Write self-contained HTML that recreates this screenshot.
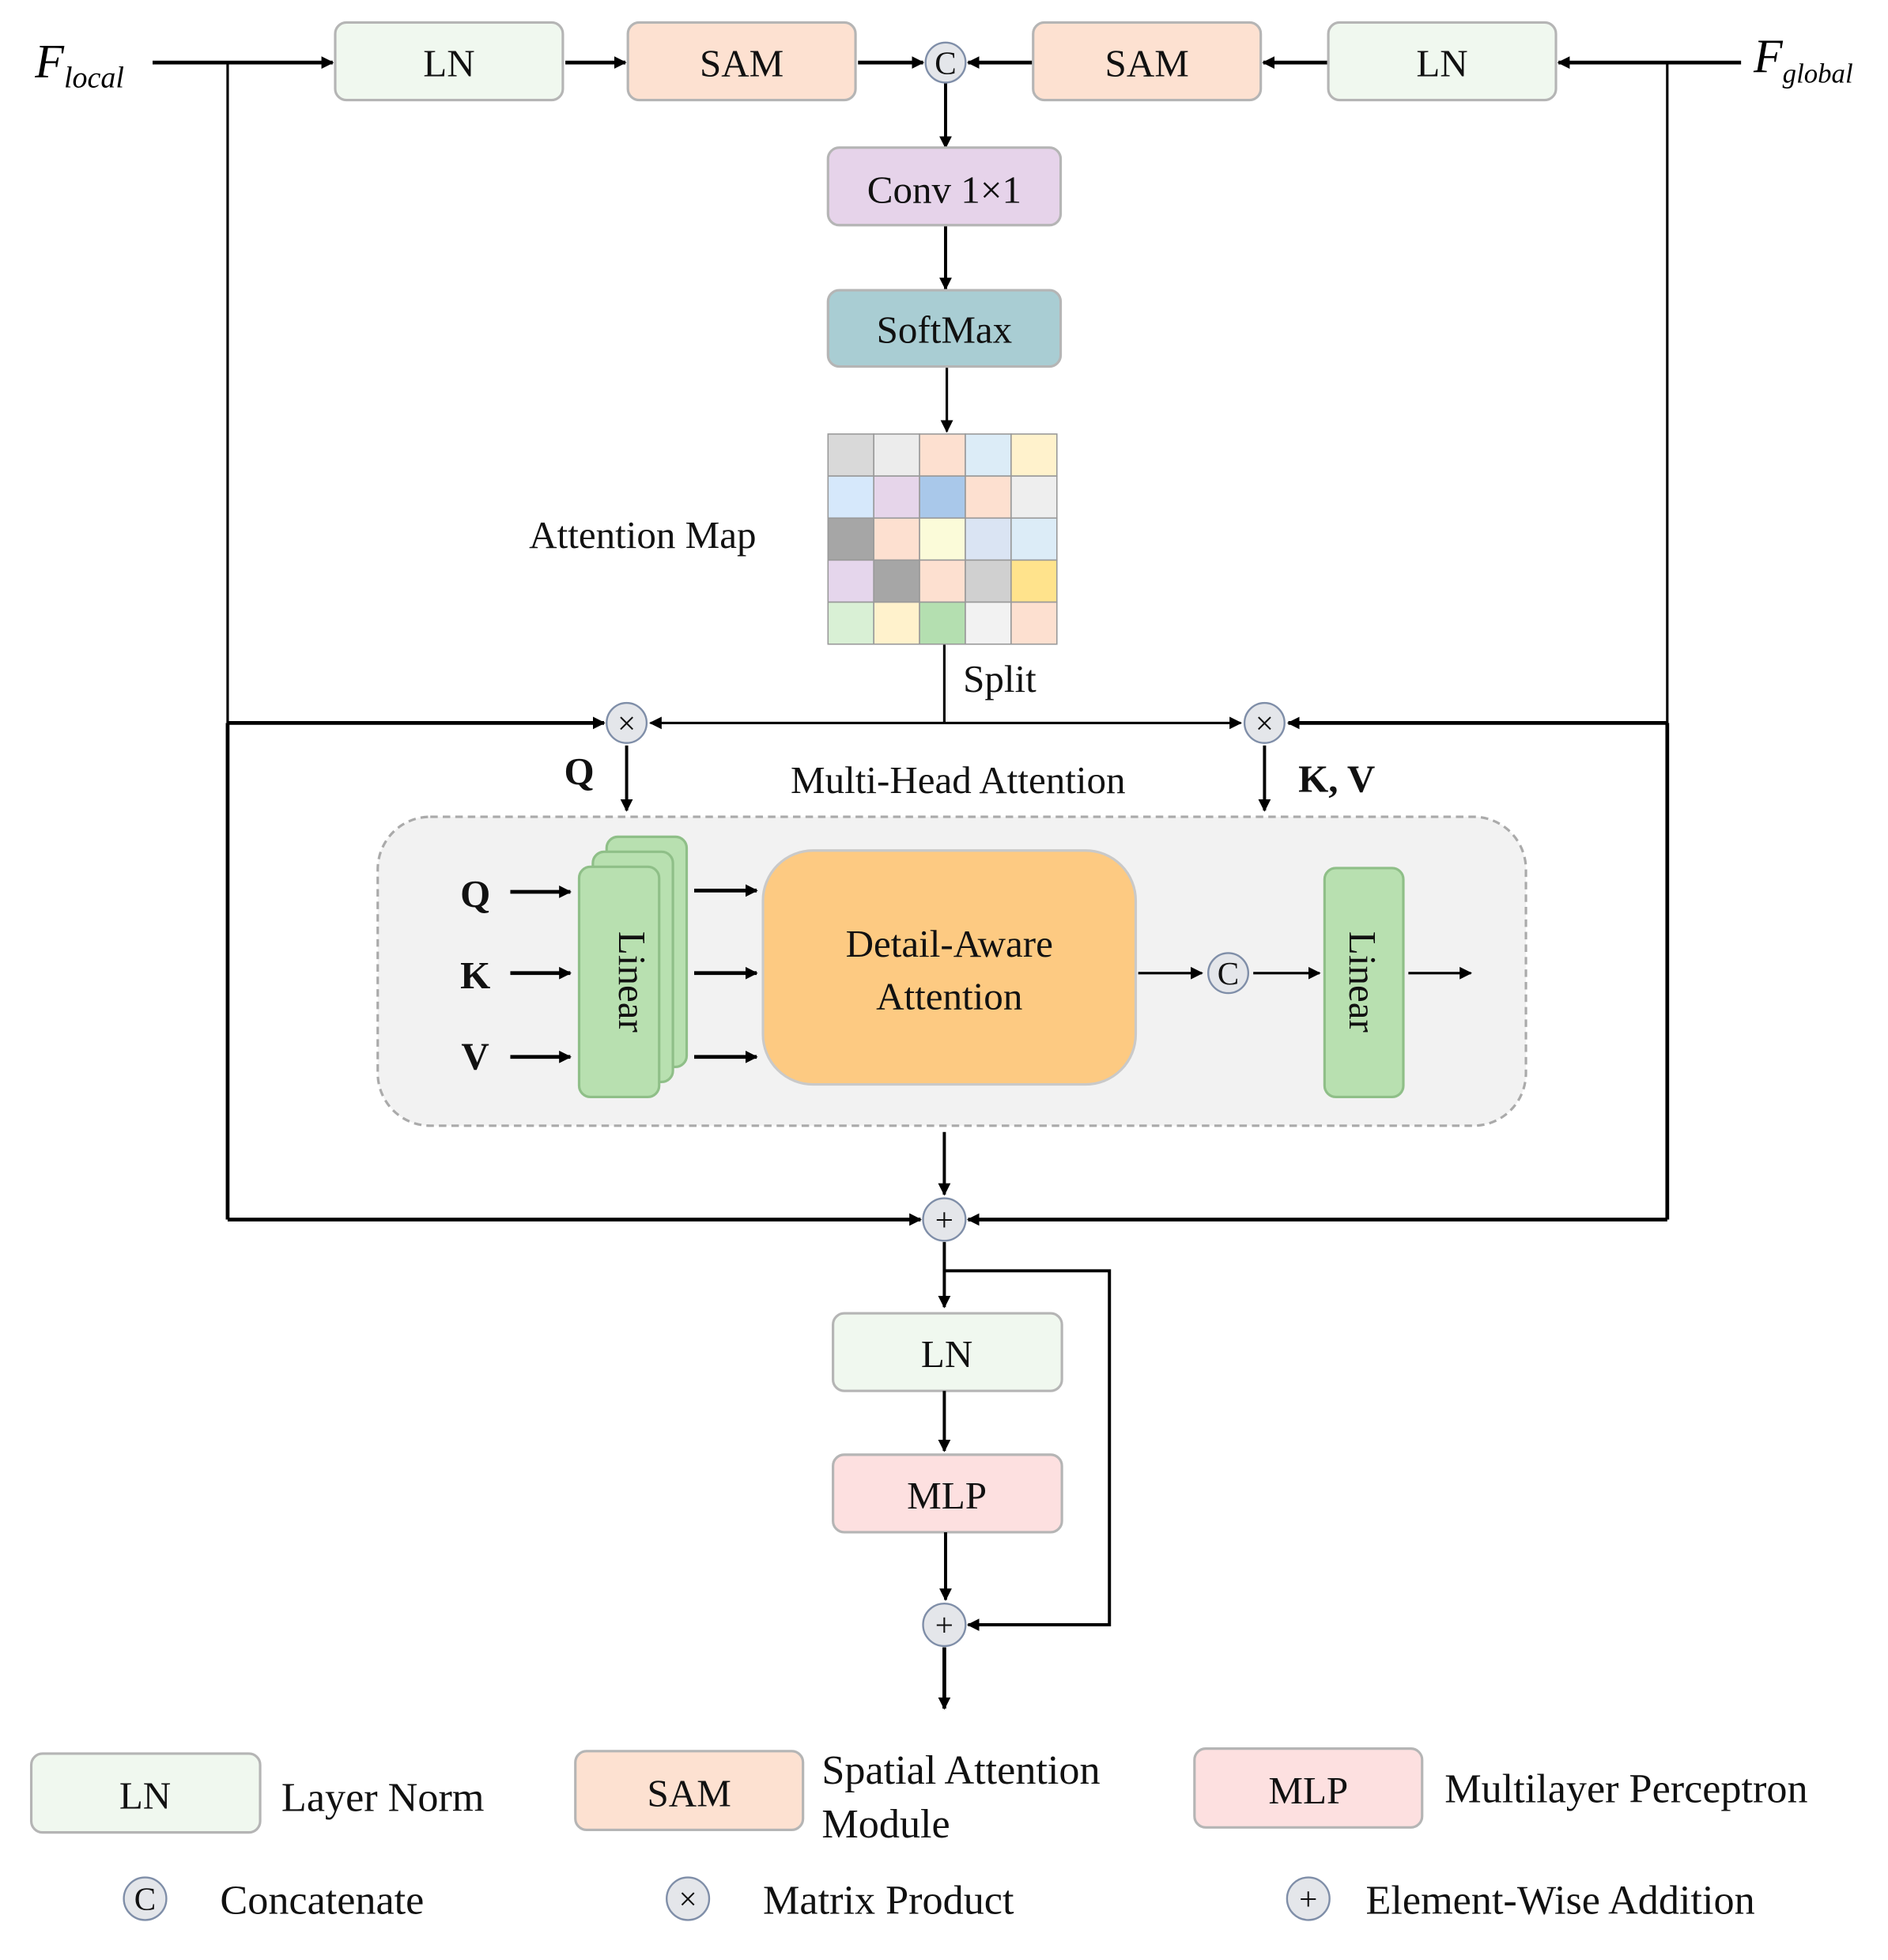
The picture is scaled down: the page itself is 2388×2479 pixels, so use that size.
<!DOCTYPE html>
<html><head><meta charset="utf-8"><style>html,body{margin:0;padding:0;background:#fff}svg{display:block}</style></head>
<body>
<svg xmlns="http://www.w3.org/2000/svg" width="2388" height="2479" viewBox="0 0 1509 1567" preserveAspectRatio="xMinYMin meet" font-family="Liberation Serif, serif">
<defs>
<marker id="b" viewBox="0 0 10 10" refX="9" refY="5" markerWidth="10" markerHeight="10" orient="auto-start-reverse" markerUnits="userSpaceOnUse"><path d="M0,0 L10,5 L0,10 z" fill="#000"/></marker>
</defs>
<g stroke="#000" fill="none">
<line x1="122" y1="50" x2="266" y2="50" stroke-width="3" marker-end="url(#b)"/>
<line x1="452" y1="50" x2="500" y2="50" stroke-width="3" marker-end="url(#b)"/>
<line x1="686" y1="50" x2="738" y2="50" stroke-width="3" marker-end="url(#b)"/>
<line x1="826" y1="50" x2="774" y2="50" stroke-width="3" marker-end="url(#b)"/>
<line x1="1062" y1="50" x2="1010" y2="50" stroke-width="3" marker-end="url(#b)"/>
<line x1="1392" y1="50" x2="1246" y2="50" stroke-width="3" marker-end="url(#b)"/>
<line x1="182" y1="50" x2="182" y2="578" stroke-width="2"/>
<line x1="1333" y1="50" x2="1333" y2="578" stroke-width="2"/>
<line x1="756" y1="66" x2="756" y2="118" stroke-width="2.5" marker-end="url(#b)"/>
<line x1="756" y1="180" x2="756" y2="231" stroke-width="2.5" marker-end="url(#b)"/>
<line x1="757" y1="294" x2="757" y2="345" stroke-width="2" marker-end="url(#b)"/>
<line x1="755" y1="515" x2="755" y2="578" stroke-width="2"/>
<line x1="755" y1="578" x2="520" y2="578" stroke-width="2" marker-end="url(#b)"/>
<line x1="755" y1="578" x2="992" y2="578" stroke-width="2" marker-end="url(#b)"/>
<line x1="182" y1="578" x2="483" y2="578" stroke-width="3" marker-end="url(#b)"/>
<line x1="1333" y1="578" x2="1030" y2="578" stroke-width="3" marker-end="url(#b)"/>
<line x1="182" y1="578" x2="182" y2="975" stroke-width="3"/>
<line x1="1333" y1="578" x2="1333" y2="975" stroke-width="3"/>
<line x1="182" y1="975" x2="736" y2="975" stroke-width="3" marker-end="url(#b)"/>
<line x1="1333" y1="975" x2="774" y2="975" stroke-width="3" marker-end="url(#b)"/>
<line x1="501" y1="596" x2="501" y2="648" stroke-width="2.5" marker-end="url(#b)"/>
<line x1="1011" y1="596" x2="1011" y2="648" stroke-width="2.5" marker-end="url(#b)"/>
</g>
<rect x="302" y="653" width="918" height="247" rx="42" fill="#f2f2f2" stroke="#aaa" stroke-width="2" stroke-dasharray="6,4"/>
<g stroke="#b5b5b5" stroke-width="2">
<rect x="268" y="18" width="182" height="62" rx="9" fill="#f0f8ef"/>
<rect x="502" y="18" width="182" height="62" rx="9" fill="#fde1d1"/>
<rect x="826" y="18" width="182" height="62" rx="9" fill="#fde1d1"/>
<rect x="1062" y="18" width="182" height="62" rx="9" fill="#f0f8ef"/>
<rect x="662" y="118" width="186" height="62" rx="9" fill="#e6d3ea"/>
<rect x="662" y="232" width="186" height="61" rx="9" fill="#a9cdd3"/>
<rect x="666" y="1050" width="183" height="62" rx="9" fill="#f0f8ef"/>
<rect x="666" y="1163" width="183" height="62" rx="9" fill="#fde0e0"/>
<rect x="25" y="1402" width="183" height="63" rx="9" fill="#f0f8ef"/>
<rect x="460" y="1400" width="182" height="63" rx="9" fill="#fde1d1"/>
<rect x="955" y="1398" width="182" height="63" rx="9" fill="#fde0e0"/>
</g>
<g font-size="31" text-anchor="middle" fill="#111">
<text x="359" y="61">LN</text><text x="593" y="61">SAM</text><text x="917" y="61">SAM</text><text x="1153" y="61">LN</text>
<text x="755" y="162">Conv 1×1</text><text x="755" y="274">SoftMax</text>
<text x="757" y="1093">LN</text><text x="757" y="1206">MLP</text>
<text x="116" y="1446">LN</text><text x="551" y="1444">SAM</text><text x="1046" y="1442">MLP</text>
</g>
<text x="28" y="62" font-size="38" font-style="italic">F<tspan font-size="24" dy="8">local</tspan></text>
<text x="1402" y="58" font-size="38" font-style="italic">F<tspan font-size="22" dy="8">global</tspan></text>
<g stroke="#999" stroke-width="1">
<rect x="662" y="347" width="36.6" height="33.6" fill="#d9d9d9"/><rect x="698.6" y="347" width="36.6" height="33.6" fill="#ececec"/><rect x="735.2" y="347" width="36.6" height="33.6" fill="#fde0d0"/><rect x="771.8" y="347" width="36.6" height="33.6" fill="#dcecf7"/><rect x="808.4" y="347" width="36.6" height="33.6" fill="#fff2cc"/>
<rect x="662" y="380.6" width="36.6" height="33.6" fill="#d6e8fb"/><rect x="698.6" y="380.6" width="36.6" height="33.6" fill="#e6d5ea"/><rect x="735.2" y="380.6" width="36.6" height="33.6" fill="#a9c8ea"/><rect x="771.8" y="380.6" width="36.6" height="33.6" fill="#fde0d0"/><rect x="808.4" y="380.6" width="36.6" height="33.6" fill="#eeeeee"/>
<rect x="662" y="414.2" width="36.6" height="33.6" fill="#a6a6a6"/><rect x="698.6" y="414.2" width="36.6" height="33.6" fill="#fde0d0"/><rect x="735.2" y="414.2" width="36.6" height="33.6" fill="#fbfbd9"/><rect x="771.8" y="414.2" width="36.6" height="33.6" fill="#dae4f3"/><rect x="808.4" y="414.2" width="36.6" height="33.6" fill="#dcecf7"/>
<rect x="662" y="447.8" width="36.6" height="33.6" fill="#e5d6ec"/><rect x="698.6" y="447.8" width="36.6" height="33.6" fill="#a6a6a6"/><rect x="735.2" y="447.8" width="36.6" height="33.6" fill="#fde0d0"/><rect x="771.8" y="447.8" width="36.6" height="33.6" fill="#d0d0d0"/><rect x="808.4" y="447.8" width="36.6" height="33.6" fill="#ffe38c"/>
<rect x="662" y="481.4" width="36.6" height="33.6" fill="#d9f0d5"/><rect x="698.6" y="481.4" width="36.6" height="33.6" fill="#fff2cc"/><rect x="735.2" y="481.4" width="36.6" height="33.6" fill="#b4dfb0"/><rect x="771.8" y="481.4" width="36.6" height="33.6" fill="#f2f2f2"/><rect x="808.4" y="481.4" width="36.6" height="33.6" fill="#fde0d0"/>
</g>
<g font-size="31" fill="#111">
<text x="423" y="438">Attention Map</text>
<text x="770" y="553">Split</text>
<text x="766" y="634" text-anchor="middle">Multi-Head Attention</text>
<text x="451" y="627" font-weight="bold">Q</text>
<text x="1038" y="633" font-weight="bold">K, V</text>
<text x="380" y="725" font-weight="bold" text-anchor="middle">Q</text>
<text x="380" y="790" font-weight="bold" text-anchor="middle">K</text>
<text x="380" y="855" font-weight="bold" text-anchor="middle">V</text>
</g>
<g stroke="#000" stroke-width="3">
<line x1="408" y1="713" x2="456" y2="713" marker-end="url(#b)"/>
<line x1="408" y1="778" x2="456" y2="778" marker-end="url(#b)"/>
<line x1="408" y1="845" x2="456" y2="845" marker-end="url(#b)"/>
<line x1="555" y1="712" x2="605" y2="712" marker-end="url(#b)"/>
<line x1="555" y1="778" x2="605" y2="778" marker-end="url(#b)"/>
<line x1="555" y1="845" x2="605" y2="845" marker-end="url(#b)"/>
<line x1="910" y1="778" x2="961" y2="778" stroke-width="2" marker-end="url(#b)"/>
<line x1="1002" y1="778" x2="1055" y2="778" stroke-width="2" marker-end="url(#b)"/>
<line x1="1126" y1="778" x2="1176" y2="778" stroke-width="2" marker-end="url(#b)"/>
</g>
<g stroke="#8fbf88" stroke-width="2" fill="#b8e0b0">
<rect x="485" y="669" width="64" height="184" rx="9"/>
<rect x="474" y="681" width="64" height="184" rx="9"/>
<rect x="463" y="693" width="64" height="184" rx="9"/>
<rect x="1059" y="694" width="63" height="183" rx="9"/>
</g>
<text transform="translate(495,785) rotate(90)" font-size="31" text-anchor="middle" fill="#111">Linear</text>
<text transform="translate(1079,785) rotate(90)" font-size="31" text-anchor="middle" fill="#111">Linear</text>
<rect x="610" y="680" width="298" height="187" rx="40" fill="#fdca82" stroke="#c9c9c9" stroke-width="2"/>
<text x="759" y="765" font-size="31" text-anchor="middle" fill="#111">Detail-Aware</text>
<text x="759" y="807" font-size="31" text-anchor="middle" fill="#111">Attention</text>
<g stroke="#000" stroke-width="2.5" fill="none">
<line x1="755" y1="905" x2="755" y2="955" marker-end="url(#b)"/>
<line x1="755" y1="993" x2="755" y2="1045" marker-end="url(#b)"/>
<polyline points="755,1016 887,1016 887,1299 774,1299" marker-end="url(#b)"/>
<line x1="755" y1="1112" x2="755" y2="1160" marker-end="url(#b)"/>
<line x1="756" y1="1225" x2="756" y2="1279" marker-end="url(#b)"/>
<line x1="755" y1="1317" x2="755" y2="1366" stroke-width="3" marker-end="url(#b)"/>
</g>
<g stroke="#7f8ea8" stroke-width="1.5" fill="#e4e6ea">
<circle cx="756" cy="50" r="16"/><circle cx="501" cy="578" r="16"/><circle cx="1011" cy="578" r="16"/>
<circle cx="982" cy="778" r="16"/><circle cx="755" cy="975" r="17"/><circle cx="755" cy="1299" r="17"/>
<circle cx="116" cy="1518" r="17"/><circle cx="550" cy="1518" r="17"/><circle cx="1046" cy="1518" r="17"/>
</g>
<g font-size="26" text-anchor="middle" fill="#111">
<text x="756" y="59">C</text><text x="982" y="787">C</text><text x="116" y="1527">C</text>
<text x="501" y="587">×</text><text x="1011" y="587">×</text><text x="550" y="1527">×</text>
<text x="755" y="984">+</text><text x="755" y="1308">+</text><text x="1046" y="1527">+</text>
</g>
<g font-size="33" fill="#111">
<text x="225" y="1448">Layer Norm</text>
<text x="657" y="1426">Spatial Attention</text>
<text x="657" y="1469">Module</text>
<text x="1155" y="1441">Multilayer Perceptron</text>
<text x="176" y="1530">Concatenate</text>
<text x="610" y="1530">Matrix Product</text>
<text x="1092" y="1530">Element-Wise Addition</text>
</g>
</svg>
</body></html>
